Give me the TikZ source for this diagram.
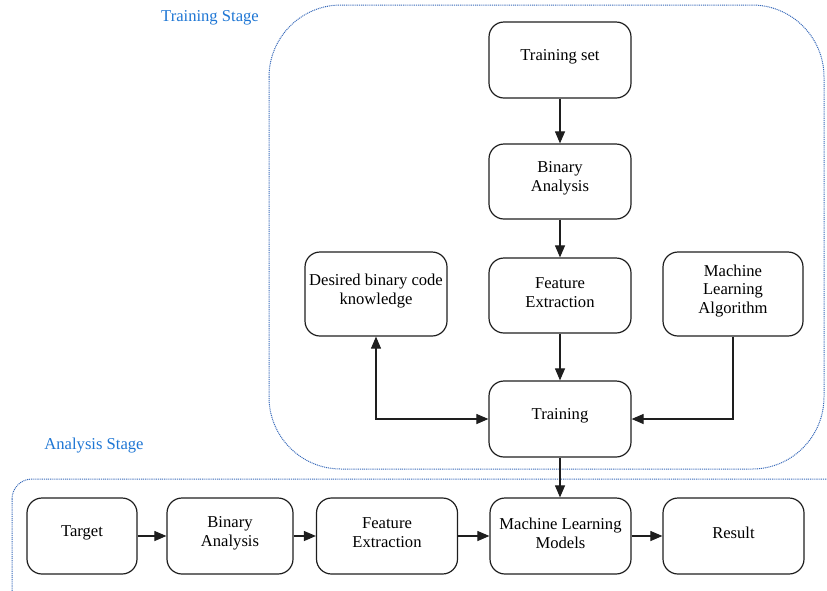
\documentclass[tikz,border=0pt]{standalone}
\usepackage{fontspec}
\setmainfont{Liberation Serif}
\usetikzlibrary{arrows.meta}
\definecolor{stageblue}{RGB}{30,118,212}
\definecolor{frameblue}{RGB}{55,105,185}
\definecolor{boxline}{RGB}{30,30,30}
\tikzset{
  procbox/.style={draw=boxline, line width=1.2pt, rounded corners=15pt,
    inner sep=0pt},
  boxtext/.style={align=center, yshift=3pt, inner sep=1pt,
    font=\fontsize{16.6}{18.8}\selectfont},
  flow/.style={draw=boxline, line width=1.1pt,
    -{Triangle[length=12pt,width=10pt]}},
  bothflow/.style={draw=boxline, line width=1.1pt,
    {Triangle[length=12pt,width=10pt]}-{Triangle[length=12pt,width=10pt]}},
  stageframe/.style={draw=frameblue, line width=1pt,
    dash pattern=on 1pt off 0.9pt},
  stagelabel/.style={text=stageblue, font=\fontsize{16.6}{18.8}\selectfont}
}
\begin{document}
\begin{tikzpicture}[x=1pt,y=-1pt]
\useasboundingbox (0,0) rectangle (827,590);
\clip (0,0) rectangle (827,590);

% stage frames
\draw[stageframe, rounded corners=72pt] (269,5) rectangle (824,469);
\draw[stageframe, rounded corners=20pt] (12,479) rectangle (860,630);
\node[stagelabel] (lbltrain) at (210,18) {Training Stage};
\node[stagelabel] (lblanalysis) at (94,446) {Analysis Stage};

% training stage
\node[procbox, minimum width=142pt, minimum height=76pt,
  label={[boxtext]center:Training set}] (ts) at (560,60) {};
\node[procbox, minimum width=142pt, minimum height=75pt,
  label={[boxtext]center:{Binary\\Analysis}}] (ba1) at (560,181.5) {};
\node[procbox, minimum width=142pt, minimum height=75pt,
  label={[boxtext]center:{Feature\\Extraction}}] (fe1) at (560,295.5) {};
\node[procbox, minimum width=142pt, minimum height=84pt,
  label={[boxtext]center:{Desired binary code\\knowledge}}] (des) at (376,294) {};
\node[procbox, minimum width=140pt, minimum height=84pt,
  label={[boxtext]center:{Machine\\Learning\\Algorithm}}] (mla) at (733,294) {};
\node[procbox, minimum width=142pt, minimum height=76pt,
  label={[boxtext]center:Training}] (tr) at (560,419) {};

% analysis stage
\node[procbox, minimum width=110pt, minimum height=76pt,
  label={[boxtext]center:Target}] (tgt) at (82,536) {};
\node[procbox, minimum width=126pt, minimum height=76pt,
  label={[boxtext]center:{Binary\\Analysis}}] (ba2) at (230,536) {};
\node[procbox, minimum width=141pt, minimum height=76pt,
  label={[boxtext]center:{Feature\\Extraction}}] (fe2) at (387,536) {};
\node[procbox, minimum width=141pt, minimum height=76pt,
  label={[boxtext]center:{Machine Learning\\Models}}] (mlm) at (560.5,536) {};
\node[procbox, minimum width=141pt, minimum height=76pt,
  label={[boxtext]center:Result}] (res) at (733.5,536) {};

% connectors
\draw[flow] (ts) -- (ba1);
\draw[flow] (ba1) -- (fe1);
\draw[flow] (fe1) -- (tr);
\draw[bothflow] (tr.west) -| (des.south);
\draw[flow] (mla.south) |- (tr.east);
\draw[flow] (tr.south) -- (tr.south |- mlm.north);
\draw[flow] (tgt) -- (ba2);
\draw[flow] (ba2) -- (fe2);
\draw[flow] (fe2) -- (mlm);
\draw[flow] (mlm) -- (res);
\end{tikzpicture}
\end{document}
